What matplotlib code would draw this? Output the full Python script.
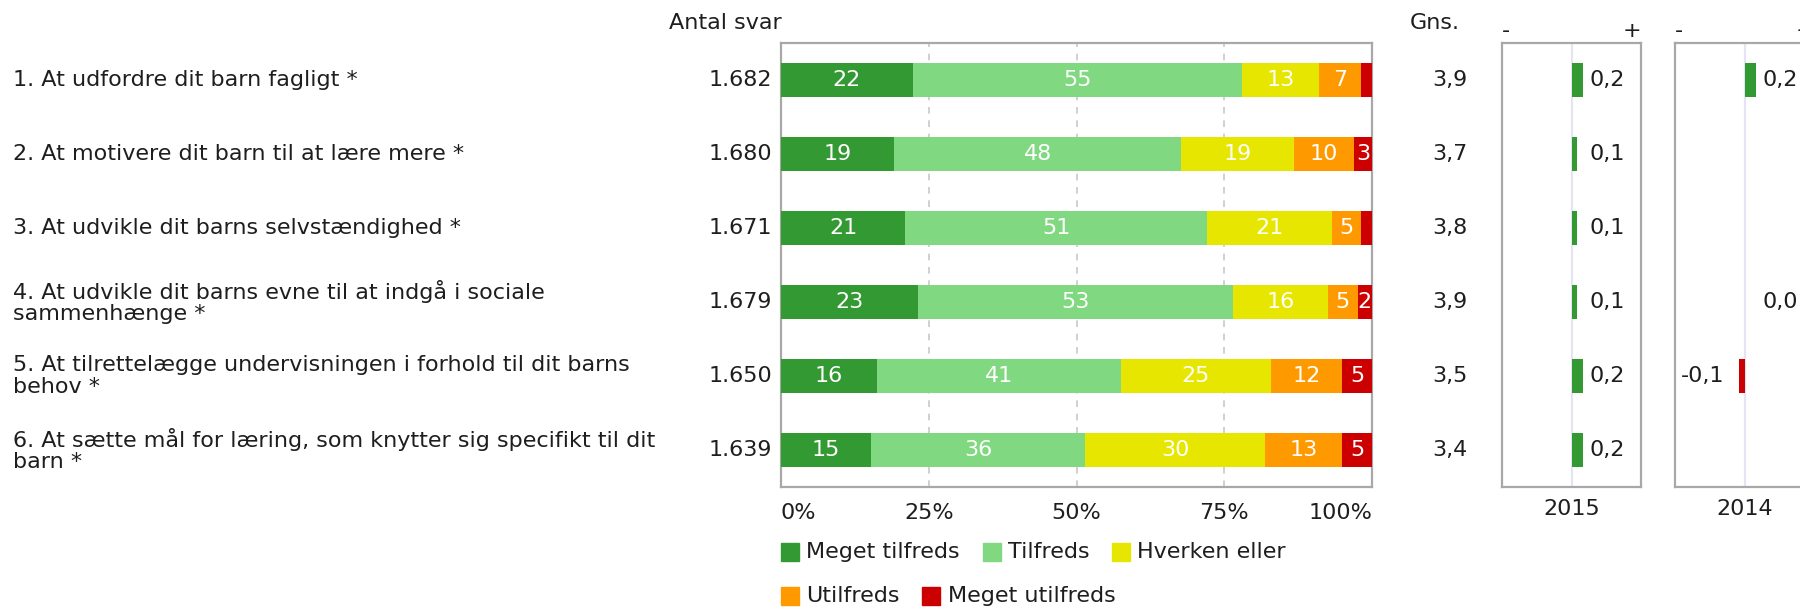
import numpy as np
import matplotlib
matplotlib.use("Agg")
import matplotlib.pyplot as plt
from matplotlib.patches import Rectangle

plt.rcParams['font.family'] = ['DejaVu Sans']

# ---------------- data ----------------
questions = [
    "1. At udfordre dit barn fagligt *",
    "2. At motivere dit barn til at lære mere *",
    "3. At udvikle dit barns selvstændighed *",
    "4. At udvikle dit barns evne til at indgå i sociale\nsammenhænge *",
    "5. At tilrettelægge undervisningen i forhold til dit barns\nbehov *",
    "6. At sætte mål for læring, som knytter sig specifikt til dit\nbarn *",
]
antal_svar = [1682, 1680, 1671, 1679, 1650, 1639]

series_names = ["Meget tilfreds", "Tilfreds", "Hverken eller", "Utilfreds", "Meget utilfreds"]
meget_tilfreds = [22, 19, 21, 23, 16, 15]
tilfreds = [55, 48, 51, 53, 41, 36]
hverken_eller = [13, 19, 21, 16, 25, 30]
utilfreds = [7, 10, 5, 5, 12, 13]
meget_utilfreds = [1.8, 3, 1.8, 2.4, 5, 5]

gns = [3.9, 3.7, 3.8, 3.9, 3.5, 3.4]
diff_2015 = [0.2, 0.1, 0.1, 0.1, 0.2, 0.2]
diff_2014 = [0.2, np.nan, np.nan, 0.0, -0.1, np.nan]
diff_years = ["2015", "2014"]

x_ticks = [0, 25, 50, 75, 100]
x_tick_labels = ["0%", "25%", "50%", "75%", "100%"]

# ---------------- style ----------------
colors = ["#339933", "#80d880", "#e6e600", "#ff9900", "#cc0000"]
frame_col = "#a8a8a8"
grid_col = "#c8c8c8"
text_col = "#1e1e1e"
FS = 16

W, H = 1800, 607
fig = plt.figure(figsize=(W / 100, H / 100), dpi=100)


def fx(x):
    return x / W


def fy(y):
    return 1 - y / H


def ax_rect(l, t, r, b):
    return [fx(l), fy(b), (r - l) / W, (b - t) / H]


TOP, BOT = 43, 487
n = len(questions)
ypos = np.arange(n)
bar_h = 0.45


def ytr(j):
    return fy(TOP + (j + 0.5) * (BOT - TOP) / n)


# ---------------- main stacked bar ----------------
ax = fig.add_axes(ax_rect(781, TOP, 1372, BOT))
data = np.array([meget_tilfreds, tilfreds, hverken_eller, utilfreds, meget_utilfreds], dtype=float)
totals = data.sum(axis=0)
pct = data / totals * 100
left = np.zeros(n)
for i in range(len(series_names)):
    ax.barh(ypos, pct[i], left=left, height=bar_h, color=colors[i], edgecolor="none", zorder=3)
    for j in range(n):
        v = data[i, j]
        if v >= 2:
            ax.text(left[j] + pct[i, j] / 2, ypos[j], f"{v:.0f}", ha="center", va="center",
                    color="white", fontsize=FS, zorder=4)
    left += pct[i]
ax.set_xlim(0, 100)
ax.set_ylim(n - 0.5, -0.5)
for xv in x_ticks[1:-1]:
    ax.axvline(xv, color=grid_col, lw=1.2, ls=(0, (4, 4)), zorder=1)
ax.set_xticks([])
ax.set_yticks([])
for s in ax.spines.values():
    s.set_color(frame_col)
    s.set_linewidth(1.6)

# x tick labels
tick_y = -(513 - BOT) / (BOT - TOP)
for xv, lab in zip(x_ticks, x_tick_labels):
    ha = "left" if xv == 0 else ("right" if xv == 100 else "center")
    ax.text(xv, tick_y, lab, transform=ax.get_xaxis_transform(), ha=ha, va="center",
            fontsize=FS, color=text_col)

# question labels, counts, averages
for j in range(n):
    fig.text(fx(13), ytr(j), questions[j], ha="left", va="center", fontsize=FS,
             color=text_col, linespacing=1.1)
    fig.text(fx(772), ytr(j), f"{antal_svar[j]:,}".replace(",", "."), ha="right", va="center",
             fontsize=FS, color=text_col)
    fig.text(fx(1450), ytr(j), f"{gns[j]:.1f}".replace(".", ","), ha="center", va="center",
             fontsize=FS, color=text_col)

fig.text(fx(669), fy(23), "Antal svar", ha="left", va="center", fontsize=FS, color=text_col)
fig.text(fx(1410), fy(23), "Gns.", ha="left", va="center", fontsize=FS, color=text_col)

# ---------------- legend (flow layout) ----------------
renderer = fig.canvas.get_renderer()
sq = 18
rows = [[0, 1, 2], [3, 4]]
row_y = [552, 596]
for r, items in enumerate(rows):
    x = 781
    for i in items:
        fig.patches.append(Rectangle((fx(x), fy(row_y[r] + sq / 2)), sq / W, sq / H,
                                     transform=fig.transFigure, color=colors[i]))
        t = fig.text(fx(x + sq + 7), fy(row_y[r]), series_names[i], ha="left", va="center",
                     fontsize=FS, color=text_col)
        bb = t.get_window_extent(renderer)
        x = bb.x1 + 23

# ---------------- difference panels ----------------
panels = [(1502, 1641, diff_2015), (1675, 1814, diff_2014)]
for (l, r, vals), year in zip(panels, diff_years):
    pax = fig.add_axes(ax_rect(l, TOP, r, BOT))
    pax.set_xlim(-1.25, 1.25)
    pax.set_ylim(n - 0.5, -0.5)
    pax.axvline(0, color="#e4e4f4", lw=1.6, zorder=1)
    vals = np.array(vals, dtype=float)
    ok = ~np.isnan(vals)
    pax.barh(ypos[ok], vals[ok], height=bar_h,
             color=[colors[0] if v >= 0 else colors[4] for v in vals[ok]], zorder=3)
    zero_px = (l + r) / 2
    for j in range(n):
        v = vals[j]
        if np.isnan(v):
            continue
        lab = f"{v:.1f}".replace(".", ",")
        if v < 0:
            fig.text(fx(zero_px - 20), ytr(j), lab, ha="right", va="center", fontsize=FS, color=text_col)
        else:
            fig.text(fx(zero_px + 18), ytr(j), lab, ha="left", va="center", fontsize=FS, color=text_col)
    pax.set_xticks([])
    pax.set_yticks([])
    for s in pax.spines.values():
        s.set_color(frame_col)
        s.set_linewidth(1.6)
    fig.text(fx(l + 4), fy(31), "-", ha="center", va="center", fontsize=FS, color=text_col)
    fig.text(fx(r - 9), fy(31), "+", ha="center", va="center", fontsize=FS, color=text_col)
    fig.text(fx(zero_px), fy(509), year, ha="center", va="center", fontsize=FS, color=text_col)

fig.savefig("out.png", dpi=100, facecolor="white")
